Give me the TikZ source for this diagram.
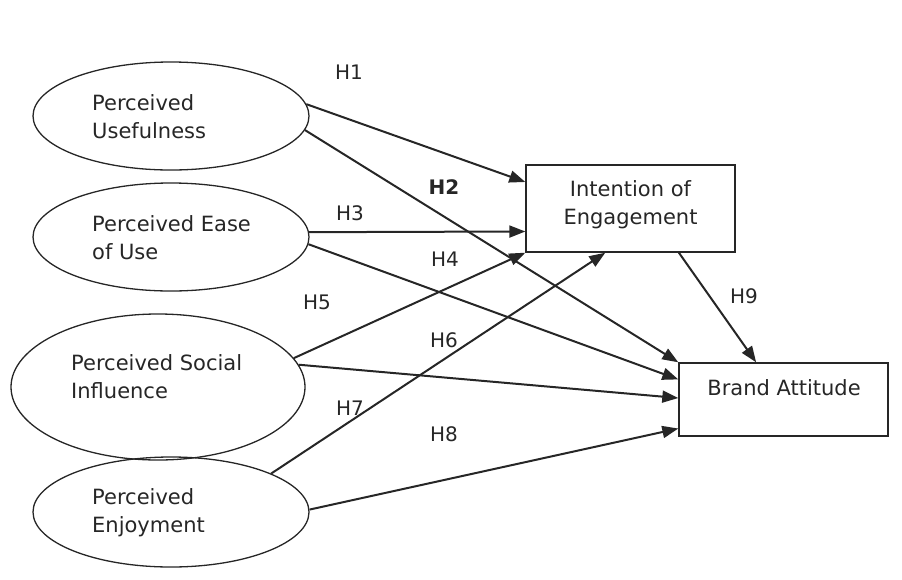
\documentclass[tikz,border=0pt]{standalone}
\usepackage{fontspec}
\setmainfont{DejaVu Sans}
\usetikzlibrary{shapes.geometric,arrows.meta,calc}

\begin{document}
\begin{tikzpicture}[x=1pt,y=-1pt,
    latent/.style={ellipse,draw=black!85,line width=1.3pt,inner sep=0pt},
    construct/.style={rectangle,draw=black!85,line width=1.4pt,inner sep=0pt},
    txt/.style={font=\fontsize{21}{28}\selectfont,text=black!85,inner sep=0pt,align=left},
    hyp/.style={font=\fontsize{20}{24}\selectfont,text=black!85,inner sep=0pt},
    link/.style={draw=black!85,line width=2pt,-{Triangle[length=16pt,width=12pt]}}]
   \useasboundingbox (0,0) rectangle (902,579);
   % antecedents
   \node[latent,minimum width=276,minimum height=108] (pu)  at (171,116) {};
   \node[latent,minimum width=276,minimum height=108] (peu) at (171,237) {};
   \node[latent,minimum width=294,minimum height=146] (psi) at (158,387) {};
   \node[latent,minimum width=276,minimum height=110] (pe)  at (171,512) {};
   \node[txt,anchor=west] (pu-t)  at (92,117) {Perceived\\Usefulness};
   \node[txt,anchor=west] (peu-t) at (92,238) {Perceived Ease\\of Use};
   \node[txt,anchor=west] (psi-t) at (71,377) {Perceived Social\\Influence};
   \node[txt,anchor=west] (pe-t)  at (92,513) {Perceived\\Enjoyment};
   % outcomes
   \node[construct,minimum width=209,minimum height=87] (ioe) at (630.5,208.5) {};
   \node[construct,minimum width=209,minimum height=73] (ba)  at (783.5,399.5) {};
   \node[txt,align=center] (ioe-t) at (630.5,205) {Intention of\\Engagement};
   \node[txt] (ba-t) at (784,388) {Brand Attitude};
   % hypotheses
   \draw[link] (pu.5)   -- ($(ioe.north west)!0.2!(ioe.south west)$);
   \draw[link] (pu.-6)  -- (ba.north west);
   \draw[link] (peu.2.5) -- ($(ioe.north west)!0.76!(ioe.south west)$);
   \draw[link] (peu.-3) -- ($(ba.north west)!0.23!(ba.south west)$);
   \draw[link] (psi.12) -- (ioe.south west);
   \draw[link] (psi.9)  -- ($(ba.north west)!0.48!(ba.south west)$);
   \draw[link] (pe.21.5) -- ($(ioe.south west)!0.38!(ioe.south east)$);
   \draw[link] (pe.1)   -- ($(ba.north west)!0.89!(ba.south west)$);
   \draw[link] ($(ioe.south west)!0.73!(ioe.south east)$) -- ($(ba.north west)!0.37!(ba.north east)$);
   \node[hyp] (h1) at (349,72)  {H1};
   \node[hyp,font=\fontsize{20}{24}\selectfont\bfseries] (h2) at (444,187) {H2};
   \node[hyp] (h3) at (350,213) {H3};
   \node[hyp] (h4) at (445,259) {H4};
   \node[hyp] (h5) at (317,302) {H5};
   \node[hyp] (h6) at (444,340) {H6};
   \node[hyp] (h7) at (350,408) {H7};
   \node[hyp] (h8) at (444,434) {H8};
   \node[hyp] (h9) at (744,296) {H9};
\end{tikzpicture}
\end{document}
